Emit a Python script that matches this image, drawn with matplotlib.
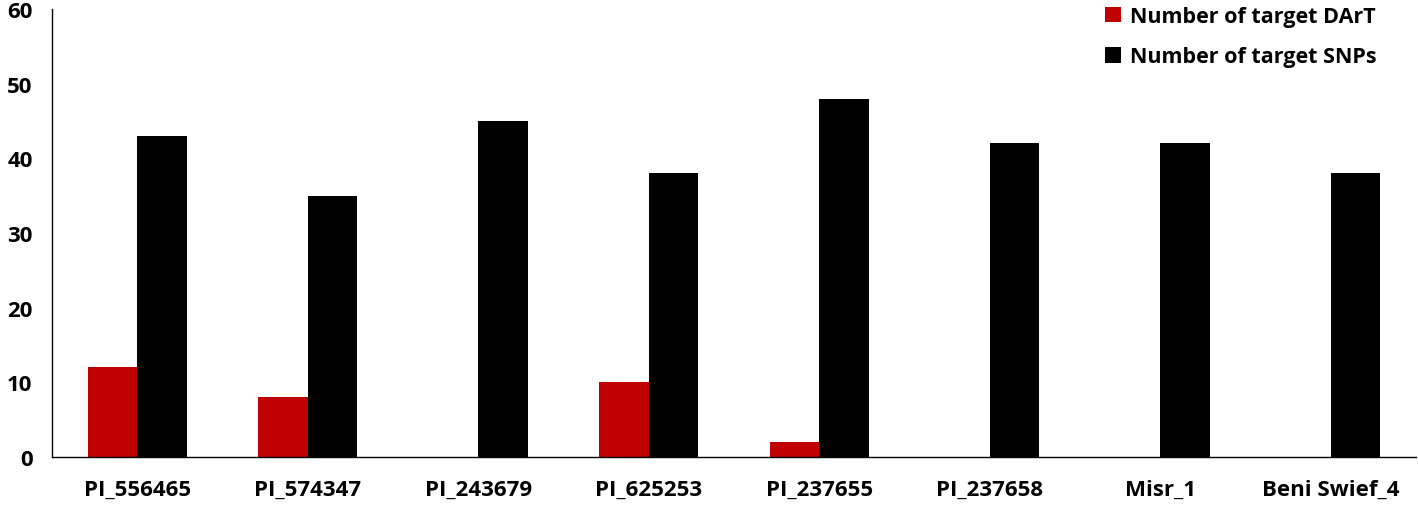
import numpy as np
import matplotlib.pyplot as plt

categories = ['PI_556465', 'PI_574347', 'PI_243679', 'PI_625253',
              'PI_237655', 'PI_237658', 'Misr_1', 'Beni Swief_4']
dart = [12, 8, 0, 10, 2, 0, 0, 0]
snps = [43, 35, 45, 38, 48, 42, 42, 38]

plt.rcParams['font.family'] = ['Open Sans', 'DejaVu Sans']
plt.rcParams['font.weight'] = 'bold'

fig = plt.figure(figsize=(14.18, 5.06), dpi=100)
ax = fig.add_axes([52 / 1418, 48 / 506, 1364 / 1418, 448 / 506])

x = np.arange(len(categories))
w = 0.29
ax.bar(x - w / 2, dart, w, color='#c00000', label='Number of target DArT')
ax.bar(x + w / 2, snps, w, color='#000000', label='Number of target SNPs')

ax.set_xlim(-0.5, len(categories) - 0.5)
ax.set_ylim(0, 60)
ax.set_yticks(range(0, 61, 10))
ax.set_xticks(x)
ax.set_xticklabels(categories, fontsize=16, fontweight='bold')
ax.tick_params(axis='y', labelsize=16, length=0, pad=14)
ax.tick_params(axis='x', length=0, pad=16)
for lbl in ax.get_yticklabels():
    lbl.set_fontweight('bold')

for s in ['top', 'right']:
    ax.spines[s].set_visible(False)
ax.spines['left'].set_linewidth(1.0)
ax.spines['bottom'].set_linewidth(1.0)

ax.legend(loc='upper right', bbox_to_anchor=(0.985, 1.05), frameon=False,
          prop={'size': 15.5, 'weight': 'bold'}, handlelength=0.75,
          handleheight=0.75, handletextpad=0.4, labelspacing=0.9)

fig.savefig('out.png', dpi=100)
